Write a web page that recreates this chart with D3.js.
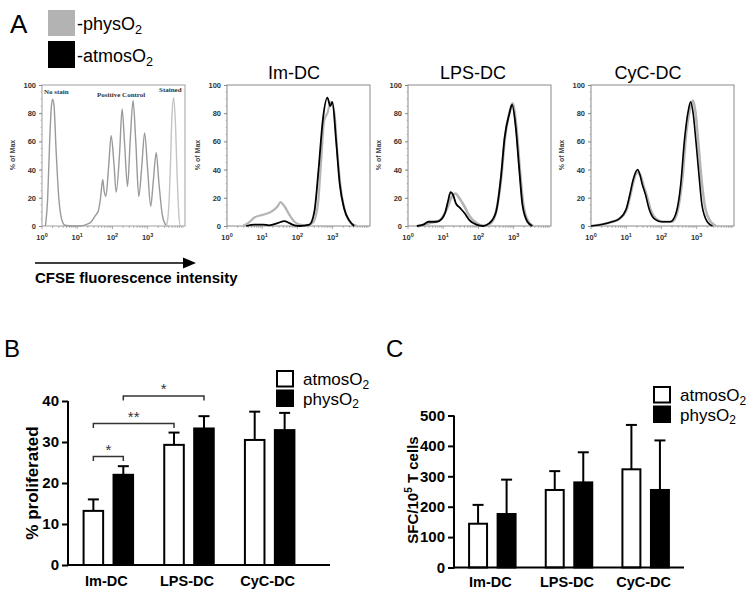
<!DOCTYPE html>
<html><head><meta charset="utf-8">
<script src="https://cdn.jsdelivr.net/npm/d3@7"></script>
<style>body{margin:0;background:#fff}svg{display:block}</style>
</head><body>
<svg id="c" width="753" height="598"></svg>
<script>
// ---------- DATA ----------
const histTitles = ["", "Im-DC", "LPS-DC", "CyC-DC"];
const yTicksHist = [0, 20, 40, 60, 80, 100];
const xTicksHist = [1, 10, 100, 1000];
// panel 1 controls
const ctrlNoStainPos = [[1.25,0],[1.45,20],[1.65,60],[1.85,85],[2.0,90],[2.2,85],[2.5,55],[3.0,20],[3.6,5],[4.5,0.5],[7,0],[12,0],[18,1],[25,3],[32,7],[40,11],[46,20],[53,33],[58,25],[65,21],[78,42],[92,64],[110,45],[128,24],[160,52],[188,83],[222,58],[268,28],[322,62],[385,89],[460,60],[560,21],[680,42],[820,66],[1000,40],[1220,14],[1450,32],[1750,52],[2100,30],[2600,8],[3200,1],[3600,0]];
const ctrlStained = [[3400,0],[3900,10],[4400,40],[4900,78],[5500,91],[6100,75],[6900,35],[7700,8],[8500,0],[11000,0]];
// Im-DC
const imPhys = [[2.8,0],[4.4,3],[6,6],[10.5,8],[17.8,10],[27.5,14],[33,17],[42.7,14],[59,8],[83,3],[115,1],[178,0.5],[269,2],[380,15],[468,45],[575,75],[708,80],[891,88],[1122,80],[1380,50],[1738,25],[2399,8],[3311,2],[5012,0]];
const imAtmos = [[3.5,0],[6,1],[10.5,1],[15.8,0.5],[27.5,2],[42.7,3.5],[59,2],[83,0.5],[115,0],[219,1],[302,10],[398,40],[525,75],[708,91],[860,85],[980,88],[1259,60],[1585,30],[2138,12],[2951,4],[4074,0]];
// LPS-DC
const lpsPhys = [[2,0],[3.98,2],[7.94,4],[12.6,12],[17.8,21],[22.4,23],[28.2,20],[39.8,14],[56.2,7],[89.1,2],[141,0],[224,2],[316,10],[447,35],[562,62],[794,82],[933,87],[1175,72],[1479,42],[1862,16],[2512,4],[3548,0]];
const lpsAtmos = [[1.78,0],[2.75,1],[3.8,3],[6.46,3],[9.12,5],[11.2,9],[13.8,18],[16.2,24],[19.1,22],[22.9,16],[29.5,13],[40.7,9],[56.2,4],[87.1,1],[135,0],[204,2],[316,10],[437,35],[550,62],[759,80],[900,86],[1148,70],[1445,40],[1778,15],[2455,3],[3388,0]];
// CyC-DC
const cycPhys = [[1,0],[2,1],[3.98,3],[6.31,5],[10,11],[12.6,20],[15.8,31],[20,38],[25.1,36],[31.6,28],[39.8,20],[50.1,11],[70.8,5],[112,3],[200,3],[282,10],[398,35],[501,65],[631,82],[794,89],[933,80],[1122,58],[1413,30],[1778,12],[2512,3],[3548,0]];
const cycAtmos = [[1,0],[2,1],[3.98,3],[6.31,5],[10,12],[12.6,22],[15.8,33],[21,40],[23.5,38],[28.2,30],[35.5,22],[44.7,12],[63.1,5],[100,3],[178,3],[251,8],[355,30],[447,60],[562,80],[676,88],[794,80],[955,60],[1175,35],[1413,15],[1995,3],[2818,0]];

// bar charts
const groups = ["Im-DC", "LPS-DC", "CyC-DC"];
const seriesNames = ["atmosO2", "physO2"];
const propAtmos = [13.2, 29.3, 30.5];
const propAtmosErr = [2.8, 3.0, 6.9];
const propPhys = [22.0, 33.3, 32.9];
const propPhysErr = [2.1, 3.0, 4.2];
const propTicks = [0, 10, 20, 30, 40];
const sfcAtmos = [144, 255, 323];
const sfcAtmosErr = [62, 62, 146];
const sfcPhys = [176, 280, 255];
const sfcPhysErr = [113, 99, 163];
const sfcTicks = [0, 100, 200, 300, 400, 500];
// significance brackets: [groupA, seriesA, groupB, seriesB, label]
const sigs = [[0,0,0,1,"*"],[0,0,1,0,"**"],[0,1,1,1,"*"]];

// ---------- DRAW ----------
const svg = d3.select("#c");
svg.append("rect").attr("width",753).attr("height",598).attr("fill","#fff");
const SANS = "'Liberation Sans', Arial, Helvetica, sans-serif";

function sub(textSel, main, subtxt) {
  textSel.append("tspan").text(main);
  textSel.append("tspan").attr("font-size","0.7em").attr("dy","0.3em").text(subtxt);
}

// Panel A label + legend
svg.append("text").attr("x",10).attr("y",33).attr("font-family",SANS).attr("font-size",26).text("A");
svg.append("rect").attr("x",48).attr("y",10).attr("width",27).attr("height",26).attr("fill","#b3b3b3");
svg.append("rect").attr("x",48).attr("y",41).attr("width",27).attr("height",27).attr("fill","#000");
sub(svg.append("text").attr("x",77).attr("y",30).attr("font-family",SANS).attr("font-size",18), "-physO", "2");
sub(svg.append("text").attr("x",77).attr("y",62).attr("font-family",SANS).attr("font-size",18), "-atmosO", "2");

const histLefts = [42, 227, 408, 591];
const histTitleX = [0, 294, 473, 648];
const hTop = 85, hBot = 226, hW = 143;
const panels = [
  [{d: ctrlNoStainPos, c:"#9a9a9a", w:1.4}, {d: ctrlStained, c:"#c4c4c4", w:1.4}],
  [{d: imPhys, c:"#b5b5b5", w:2.2}, {d: imAtmos, c:"#000", w:1.8}],
  [{d: lpsPhys, c:"#b5b5b5", w:2.6}, {d: lpsAtmos, c:"#000", w:1.8}],
  [{d: cycPhys, c:"#b5b5b5", w:2.6}, {d: cycAtmos, c:"#000", w:1.6}]
];

panels.forEach((series, i) => {
  const left = histLefts[i];
  const x = d3.scaleLog().domain([1, 11500]).range([left, left + hW]);
  const y = d3.scaleLinear().domain([0, 100]).range([hBot, hTop]);
  const g = svg.append("g");
  // frame
  g.append("rect").attr("x",left).attr("y",hTop).attr("width",hW).attr("height",hBot-hTop)
    .attr("fill","none").attr("stroke", i===0 ? "#a0a0a0" : "#8a8a8a").attr("stroke-width",1);
  // y ticks
  const ya = d3.axisLeft(y).tickValues(yTicksHist).tickSize(3).tickPadding(3).tickFormat(d3.format("d"));
  const yg = g.append("g").attr("transform",`translate(${left},0)`).call(ya);
  yg.select(".domain").remove();
  yg.selectAll("line").attr("stroke","#888");
  yg.selectAll("text").attr("font-family",SANS).attr("font-size",7.5).attr("font-weight","bold").attr("fill","#333");
  // minor y ticks
  g.selectAll(".ymin").data(d3.range(5, 100, 5)).enter().append("line")
    .attr("x1",left).attr("x2",left-1.5).attr("y1",d=>y(d)).attr("y2",d=>y(d)).attr("stroke","#999").attr("stroke-width",0.6);
  // x ticks (log minor)
  const minors = [];
  for (let e = 0; e < 4; e++) for (let k = 1; k <= 9; k++) minors.push(k * Math.pow(10, e));
  minors.push(10000);
  g.selectAll(".xmin").data(minors).enter().append("line")
    .attr("x1",d=>x(d)).attr("x2",d=>x(d)).attr("y1",hBot).attr("y2",d => xTicksHist.includes(d) ? hBot+3 : hBot+1.8)
    .attr("stroke","#888").attr("stroke-width",0.7);
  xTicksHist.forEach((v, k) => {
    const t = g.append("text").attr("x", x(v)).attr("y", hBot+14).attr("text-anchor","middle")
      .attr("font-family",SANS).attr("font-size",7.5).attr("font-weight","bold").attr("fill","#333");
    t.append("tspan").text("10");
    t.append("tspan").attr("font-size",5.5).attr("dy",-3).text(String(k));
  });
  // y label
  g.append("text").attr("transform",`translate(${left-27},155) rotate(-90)`).attr("text-anchor","middle")
    .attr("font-family",SANS).attr("font-size",7).attr("font-weight","bold").attr("fill","#444").text("% of Max");
  // curves
  const line = d3.line().x(d => x(d[0])).y(d => y(d[1])).curve(d3.curveMonotoneX);
  series.forEach(s => {
    g.append("path").attr("d", line(s.d)).attr("fill","none").attr("stroke",s.c).attr("stroke-width",s.w)
      .attr("stroke-linejoin","round");
  });
  if (histTitles[i]) {
    svg.append("text").attr("x",histTitleX[i]).attr("y",79).attr("text-anchor","middle")
      .attr("font-family",SANS).attr("font-size",18).text(histTitles[i]);
  }
});
// control labels
const SERIF = "'Liberation Serif', 'DejaVu Serif', serif";
[["No stain",44,94],["Positive Control",97,97],["Stained",159,92]].forEach(t => {
  svg.append("text").attr("x",t[1]).attr("y",t[2]).attr("font-family",SERIF).attr("font-size",7)
    .attr("font-weight","bold").attr("fill","#333").text(t[0]);
});
// arrow + label
svg.append("line").attr("x1",35).attr("x2",186).attr("y1",263).attr("y2",263).attr("stroke","#000").attr("stroke-width",1.6);
svg.append("path").attr("d","M183,257.5 L196,263 L183,268.5 Z").attr("fill","#000");
svg.append("text").attr("x",35).attr("y",283).attr("font-family",SANS).attr("font-size",15).attr("font-weight","bold")
  .text("CFSE fluorescence intensity");

// ---------- bar charts ----------
function barChart(opt) {
  const g = svg.append("g");
  const x0 = d3.scaleBand().domain(groups).range(opt.xr).padding(0);
  const x1 = d3.scaleBand().domain(seriesNames).range([-opt.half, opt.half]).paddingInner(opt.pi);
  const y = d3.scaleLinear().domain(opt.yd).range(opt.yr);
  const bx = (gi, si) => x0(groups[gi]) + x0.bandwidth()/2 + x1(seriesNames[si]);
  const data = [];
  groups.forEach((gname, gi) => {
    data.push({gi, si:0, v: opt.a[gi], e: opt.ae[gi]});
    data.push({gi, si:1, v: opt.p[gi], e: opt.pe[gi]});
  });
  // error bars
  data.forEach(d => {
    const cx = bx(d.gi, d.si) + x1.bandwidth()/2;
    g.append("line").attr("x1",cx).attr("x2",cx).attr("y1",y(d.v)).attr("y2",y(d.v + d.e)).attr("stroke","#000").attr("stroke-width",2);
    g.append("line").attr("x1",cx-5.5).attr("x2",cx+5.5).attr("y1",y(d.v + d.e)).attr("y2",y(d.v + d.e)).attr("stroke","#000").attr("stroke-width",2);
  });
  g.selectAll(".bar").data(data).enter().append("rect")
    .attr("x", d => bx(d.gi, d.si) + 1).attr("width", x1.bandwidth() - 2)
    .attr("y", d => y(d.v)).attr("height", d => y(0) - y(d.v))
    .attr("fill", d => d.si === 0 ? "#fff" : "#000").attr("stroke","#000").attr("stroke-width",2);
  // axes
  const ya = d3.axisLeft(y).tickValues(opt.ticks).tickSize(6).tickPadding(3).tickFormat(d3.format("d"));
  const yg = g.append("g").attr("transform",`translate(${opt.xr[0]},0)`).call(ya);
  yg.select(".domain").attr("stroke-width",2).attr("d", `M0,${y(0)+1}V${y(opt.yd[1])}`);
  yg.selectAll("line").attr("stroke-width",2);
  yg.selectAll("text").attr("font-family",SANS).attr("font-size",15).attr("font-weight","bold").attr("fill","#000");
  g.append("line").attr("x1",opt.xr[0]-1).attr("x2",opt.axEnd).attr("y1",y(0)).attr("y2",y(0)).attr("stroke","#000").attr("stroke-width",2);
  groups.forEach(gn => {
    g.append("text").attr("x", x0(gn) + x0.bandwidth()/2 - 2).attr("y", opt.xlabY).attr("text-anchor","middle")
      .attr("font-family",SANS).attr("font-size",14.5).attr("font-weight","bold").text(gn);
  });
  // y label
  const yl = g.append("text").attr("transform",`translate(${opt.ylabX},${opt.ylabY}) rotate(-90)`).attr("text-anchor","middle")
    .attr("font-family",SANS).attr("font-size",opt.ylabSize).attr("font-weight","bold");
  opt.ylab(yl);
  // legend
  seriesNames.forEach((s, k) => {
    g.append("rect").attr("x",opt.leg[0]).attr("y",opt.leg[1] + k*19.5).attr("width",16).attr("height",15.5)
      .attr("fill", k === 0 ? "#fff" : "#000").attr("stroke","#000").attr("stroke-width",2);
    sub(g.append("text").attr("x",opt.leg[0]+26).attr("y",opt.leg[1] + k*19.5 + 14).attr("font-family",SANS).attr("font-size",17),
      s.slice(0, -1), s.slice(-1));
  });
  // panel letter
  g.append("text").attr("x",opt.letter[0]).attr("y",opt.letter[1]).attr("font-family",SANS).attr("font-size",24).text(opt.letter[2]);
  return {bx, x1, y, g};
}

const B = barChart({xr:[68,310], axEnd:330, half:25.75, pi:0.28, yd:[0,40], yr:[565,401], ticks:propTicks,
  a:propAtmos, ae:propAtmosErr, p:propPhys, pe:propPhysErr, xlabY:586, ylabX:38, ylabY:483, ylabSize:17,
  ylab: t => t.text("% proliferated"), leg:[277,371], letter:[4,357,"B"]});
// significance
sigs.forEach((s, k) => {
  const xa = B.bx(s[0], s[1]) + B.x1.bandwidth()/2;
  const xb = B.bx(s[2], s[3]) + B.x1.bandwidth()/2;
  const hy = [456.5, 423.5, 396][k];
  B.g.append("path").attr("d",`M${xa},${hy+4.5}V${hy}H${xb}V${hy+4.5}`).attr("fill","none").attr("stroke","#333").attr("stroke-width",1.5);
  B.g.append("text").attr("x",(xa+xb)/2).attr("y",hy-2).attr("text-anchor","middle").attr("font-family",SANS)
    .attr("font-size",15).attr("fill","#333").text(s[4]);
});

barChart({xr:[454,684], axEnd:684, half:24.25, pi:0.3, yd:[0,500], yr:[567.5,415.5], ticks:sfcTicks,
  a:sfcAtmos, ae:sfcAtmosErr, p:sfcPhys, pe:sfcPhysErr, xlabY:587, ylabX:418, ylabY:490, ylabSize:15,
  ylab: t => { t.append("tspan").text("SFC/10"); t.append("tspan").attr("font-size",10).attr("dy",-6).text("5");
               t.append("tspan").attr("dy",6).text(" T cells"); },
  leg:[654,387], letter:[386,357,"C"]});
</script>
</body></html>
